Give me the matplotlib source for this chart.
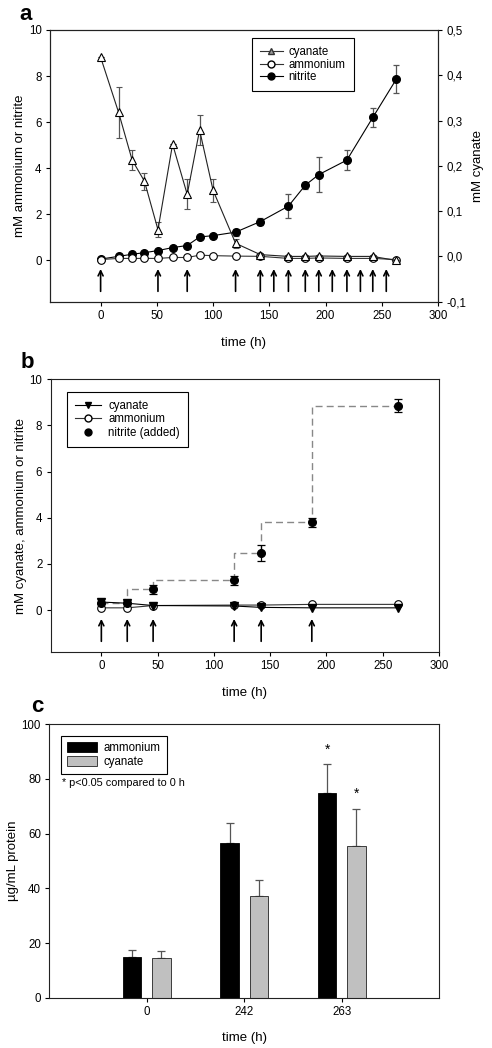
import numpy as np
import matplotlib
matplotlib.use('agg')
import matplotlib.pyplot as plt
from matplotlib.lines import Line2D
from matplotlib.patches import Patch
from matplotlib.ticker import FuncFormatter

plt.rcParams['font.family'] = ['Liberation Sans', 'DejaVu Sans']
plt.rcParams['font.size'] = 8.3

# panel a data
time_a = [0, 16, 28, 39, 51, 64, 77, 88, 100, 120, 142, 167, 182, 194, 219, 242, 263]
cyanate_a = [0.440, 0.318, 0.213, 0.166, 0.059, 0.248, 0.137, 0.279, 0.146, 0.029,
             0.004, 0.0, 0.0, 0.001, 0.0, 0.0, -0.009]
cyanate_a_err = [0, 0.057, 0.022, 0.019, 0.016, 0, 0.033, 0.034, 0.025, 0.010,
                 0, 0, 0, 0, 0, 0, 0]
ammonium_a = [0.03, 0.08, 0.08, 0.08, 0.08, 0.12, 0.12, 0.22, 0.20, 0.18,
              0.17, 0.08, 0.08, 0.10, 0.08, 0.08, 0.03]
nitrite_a = [0.05, 0.17, 0.26, 0.33, 0.42, 0.55, 0.64, 1.01, 1.07, 1.22,
             1.68, 2.35, 3.26, 3.72, 4.35, 6.20, 7.87]
nitrite_a_err = [0, 0, 0, 0, 0, 0, 0, 0, 0, 0.15, 0.15, 0.53, 0.15, 0.75,
                 0.45, 0.42, 0.59]
additions_a = [0, 51, 77, 120, 142, 154, 167, 182, 194, 206, 219, 231, 242, 254]

# panel b data
time_b = [0, 23, 46, 118, 142, 187, 264]
cyanate_b = [0.35, 0.30, 0.20, 0.18, 0.12, 0.10, 0.10]
ammonium_b = [0.10, 0.10, 0.20, 0.22, 0.22, 0.25, 0.25]
nitrite_b = [0.33, 0.30, 0.91, 1.30, 2.48, 3.80, 8.86]
nitrite_b_err = [0, 0, 0.20, 0.20, 0.33, 0.18, 0.27]
additions_b = [0, 23, 46, 118, 142, 187]

# panel c data
groups_c = ['0', '242', '263']
ammonium_c = [15.0, 56.7, 74.7]
ammonium_c_err = [2.3, 7.3, 10.6]
cyanate_c = [14.5, 37.2, 55.6]
cyanate_c_err = [2.6, 5.7, 13.5]
signif_c = [False, False, True]

W, H = 492, 1048
fig = plt.figure(figsize=(W / 100, H / 100), dpi=100)

def fbox(l, t, r, b):
    return [l / W, 1 - b / H, (r - l) / W, (b - t) / H]

ecol = '#555555'
LAB = 9.5
TICK = 8.3

def style_axes(ax):
    for s in ax.spines.values():
        s.set_linewidth(0.8)
        s.set_color('#222222')
    ax.tick_params(direction='out', length=3, width=0.8, labelsize=TICK, pad=3)

def draw_arrows(ax, times):
    for t in times:
        ax.annotate('', xy=(t, -0.38), xytext=(t, -1.35),
                    arrowprops=dict(arrowstyle='->', lw=1.2, color='black',
                                    mutation_scale=9, shrinkA=0, shrinkB=0))

# ---------------- panel a
ax = fig.add_axes(fbox(50, 30, 438, 301.7))
style_axes(ax)
ax.errorbar(time_a, nitrite_a, yerr=nitrite_a_err, fmt='-o', color='black', lw=0.8,
            ms=5.5, mfc='black', mec='black', ecolor=ecol, elinewidth=0.9, capsize=2.5,
            capthick=0.9, zorder=3)
ax.plot(time_a, ammonium_a, '-o', color='#333333', lw=0.8, ms=5.5, mfc='white',
        mec='black', mew=0.8, zorder=4)
draw_arrows(ax, additions_a)
ax.set_xlim(-45, 300)
ax.set_ylim(-1.8, 10)
ax.set_xticks(np.arange(0, 301, 50))
ax.set_yticks(np.arange(0, 11, 2))
ax.set_xlabel('time (h)', fontsize=LAB, labelpad=11)
ax.set_ylabel('mM ammonium or nitrite', fontsize=LAB, labelpad=2)

ax2 = ax.twinx()
style_axes(ax2)
ax2.errorbar(time_a, cyanate_a, yerr=cyanate_a_err, fmt='-^', color='#222222', lw=0.8,
             ms=5.5, mfc='white', mec='black', mew=0.8, ecolor=ecol, elinewidth=0.9,
             capsize=2.5, capthick=0.9, zorder=5)
ax2.set_ylim(-0.1, 0.5)
ax2.set_yticks(np.arange(-0.1, 0.51, 0.1))
ax2.yaxis.set_major_formatter(FuncFormatter(lambda v, p: f'{v:.1f}'.replace('.', ',')))
ax2.set_ylabel('mM cyanate', fontsize=LAB, labelpad=4)
handles_a = [
    Line2D([], [], color='#333333', lw=0.8, marker='^', ms=4.5, mfc='#999999', mec='#333333'),
    Line2D([], [], color='#333333', lw=0.8, marker='o', ms=5, mfc='white', mec='black'),
    Line2D([], [], color='black', lw=0.8, marker='o', ms=5, mfc='black', mec='black'),
]
leg = ax2.legend(handles_a, ['cyanate', 'ammonium', 'nitrite'], loc='upper left',
                 bbox_to_anchor=(0.52, 0.97), fancybox=False, edgecolor='black',
                 framealpha=1, fontsize=TICK, handlelength=2.0, handletextpad=0.5,
                 labelspacing=0.05, borderpad=0.7, borderaxespad=0)
leg.get_frame().set_linewidth(0.8)
fig.text(26 / W, 1 - 14 / H, 'a', fontsize=16, fontweight='bold', ha='center', va='center')

# ---------------- panel b
bx = fig.add_axes(fbox(50.7, 379.3, 439, 651.7))
style_axes(bx)
bx.plot(time_b, nitrite_b, color='#888888', lw=1.0, ls=(0, (5, 3)),
        drawstyle='steps-pre', zorder=2)
bx.plot(time_b, ammonium_b, '-o', color='#333333', lw=0.8, ms=5.5, mfc='white',
        mec='black', mew=0.8, zorder=3)
bx.plot(time_b, cyanate_b, '-v', color='black', lw=0.8, ms=5.5, mfc='black',
        mec='black', zorder=4)
bx.errorbar(time_b, nitrite_b, yerr=nitrite_b_err, fmt='o', ms=5.5, mfc='black',
            mec='black', ecolor='black', elinewidth=0.9, capsize=3, capthick=0.9, zorder=5)
draw_arrows(bx, additions_b)
bx.set_xlim(-45, 300)
bx.set_ylim(-1.8, 10)
bx.set_xticks(np.arange(0, 301, 50))
bx.set_yticks(np.arange(0, 11, 2))
bx.set_xlabel('time (h)', fontsize=LAB, labelpad=11)
bx.set_ylabel('mM cyanate, ammonium or nitrite', fontsize=LAB, labelpad=2)
handles_b = [
    Line2D([], [], color='black', lw=0.8, marker='v', ms=5, mfc='black', mec='black'),
    Line2D([], [], color='#333333', lw=0.8, marker='o', ms=5, mfc='white', mec='black'),
    Line2D([], [], color='black', lw=0, marker='o', ms=5, mfc='black', mec='black'),
]
leg = bx.legend(handles_b, ['cyanate', 'ammonium', 'nitrite (added)'], loc='upper left',
                bbox_to_anchor=(0.041, 0.955), fancybox=False, edgecolor='black',
                framealpha=1, fontsize=TICK, handlelength=2.3, handletextpad=0.6,
                labelspacing=0.15, borderpad=0.7, borderaxespad=0)
leg.get_frame().set_linewidth(0.8)
fig.text(27 / W, 1 - 363 / H, 'b', fontsize=16, fontweight='bold', ha='center', va='center')

# ---------------- panel c
cx = fig.add_axes(fbox(49.3, 724.3, 439.3, 997.7))
style_axes(cx)
pos = np.arange(len(groups_c))
bw, off = 0.19, 0.15
cx.bar(pos - off, ammonium_c, bw, color='black', edgecolor='black', lw=0.6, zorder=2)
cx.bar(pos + off, cyanate_c, bw, color='#c0c0c0', edgecolor='#222222', lw=0.6, zorder=2)
cx.errorbar(pos - off, ammonium_c, yerr=[np.zeros(3), ammonium_c_err], fmt='none',
            ecolor=ecol, elinewidth=0.9, capsize=3, capthick=0.9, zorder=1)
cx.errorbar(pos + off, cyanate_c, yerr=[np.zeros(3), cyanate_c_err], fmt='none',
            ecolor=ecol, elinewidth=0.9, capsize=3, capthick=0.9, zorder=1)
for i, s in enumerate(signif_c):
    if s:
        cx.text(pos[i] - off, ammonium_c[i] + ammonium_c_err[i] + 3, '*', ha='center',
                va='bottom', fontsize=10)
        cx.text(pos[i] + off, cyanate_c[i] + cyanate_c_err[i] + 3, '*', ha='center',
                va='bottom', fontsize=10)
cx.set_xlim(-1, 3)
cx.set_ylim(0, 100)
cx.set_xticks(pos)
cx.set_xticklabels(groups_c)
cx.set_yticks(np.arange(0, 101, 20))
cx.set_xlabel('time (h)', fontsize=LAB, labelpad=10)
cx.set_ylabel('µg/mL protein', fontsize=LAB, labelpad=2)
handles_c = [Patch(facecolor='black', edgecolor='black', lw=0.6),
             Patch(facecolor='#c0c0c0', edgecolor='#222222', lw=0.6)]
leg = cx.legend(handles_c, ['ammonium', 'cyanate'], loc='upper left',
                bbox_to_anchor=(0.029, 0.958), fancybox=False, edgecolor='black',
                framealpha=1, fontsize=TICK, handlelength=2.6, handleheight=0.9,
                handletextpad=0.6, labelspacing=0.15, borderpad=0.55, borderaxespad=0)
leg.get_frame().set_linewidth(0.8)
cx.text(0.033, 0.785, '* p<0.05 compared to 0 h', transform=cx.transAxes, fontsize=7.8,
        va='center', ha='left')
fig.text(37 / W, 1 - 706 / H, 'c', fontsize=16, fontweight='bold', ha='center', va='center')

fig.savefig('out.png', dpi=100)
